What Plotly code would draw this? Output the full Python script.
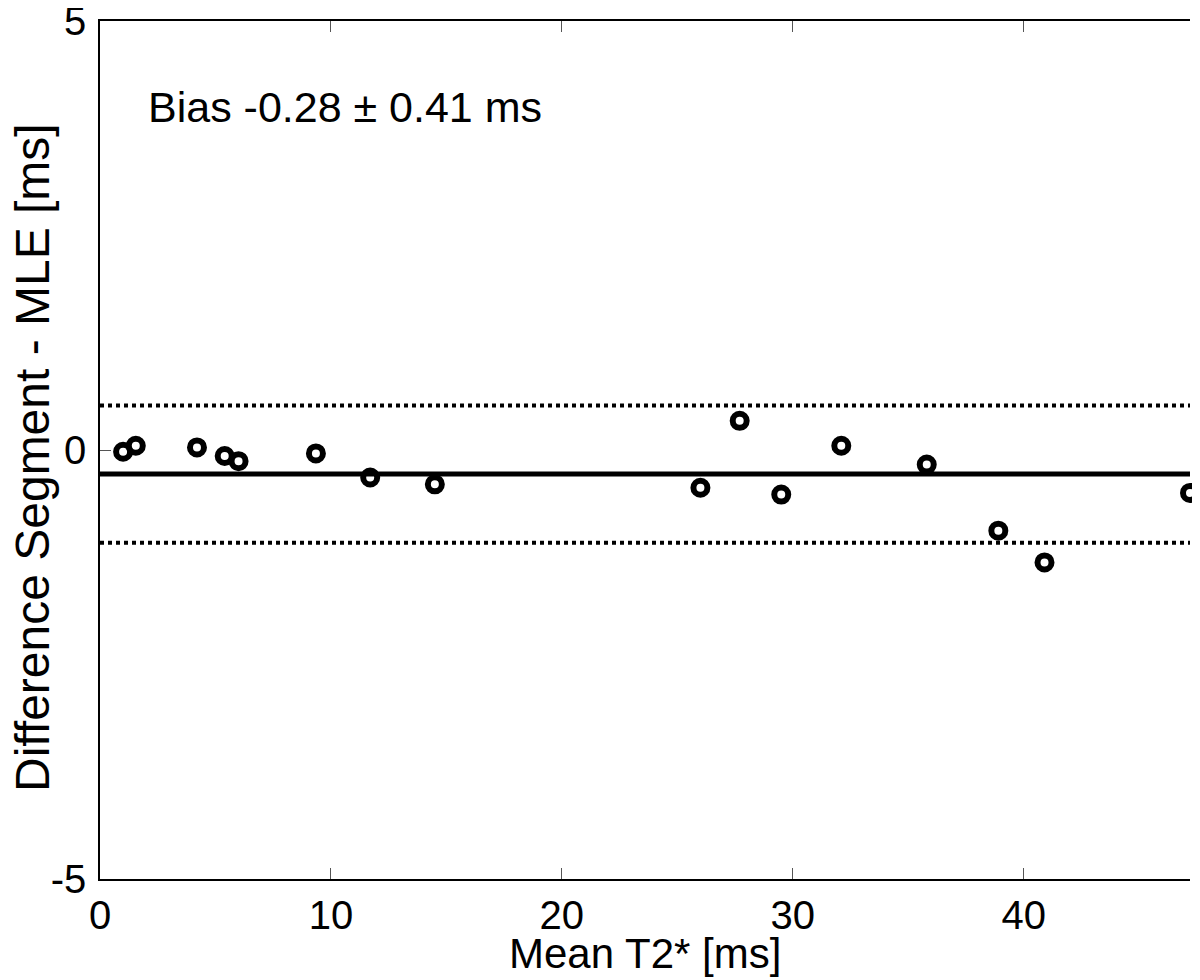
import plotly.graph_objects as go

# Data (Bland-Altman: Segment vs MLE)
mean_t2 = [1.0, 1.55, 4.2, 5.4, 6.0, 9.35, 11.7, 14.5, 26.0, 27.7, 29.5, 32.1, 35.8, 38.9, 40.9, 47.2]
diff_ms = [-0.02, 0.05, 0.03, -0.07, -0.13, -0.04, -0.32, -0.40, -0.44, 0.34, -0.52, 0.05, -0.17, -0.94, -1.31, -0.50]
bias = -0.28
sd = 0.41
loa_upper = 0.52
loa_lower = -1.08

x_range = [0, 47.2]
y_range = [-5, 5]
x_ticks = [0, 10, 20, 30, 40]
x_ticktext = ["0", "10", "20", "30", "40"]
y_ticks = [-5, 0, 5]
y_ticktext = ["-5", "0", "5"]

FONT = "Liberation Sans, Arial, sans-serif"

fig = go.Figure()

# Mean and limits of agreement lines
fig.add_trace(go.Scatter(x=x_range, y=[loa_upper, loa_upper], mode="lines",
                         line=dict(color="black", width=4, dash="dot"), showlegend=False, hoverinfo="skip"))
fig.add_trace(go.Scatter(x=x_range, y=[loa_lower, loa_lower], mode="lines",
                         line=dict(color="black", width=4, dash="dot"), showlegend=False, hoverinfo="skip"))
fig.add_trace(go.Scatter(x=x_range, y=[bias, bias], mode="lines",
                         line=dict(color="black", width=5), showlegend=False, hoverinfo="skip"))

# Data points
fig.add_trace(go.Scatter(x=mean_t2, y=diff_ms, mode="markers", cliponaxis=False,
                         marker=dict(symbol="circle-open", size=14, color="black",
                                     line=dict(color="black", width=6)),
                         showlegend=False))

fig.add_annotation(x=2, y=4, xref="x", yref="y", xanchor="left", yanchor="middle",
                   text=f"Bias {bias:.2f} \u00b1 {sd:.2f} ms", showarrow=False,
                   font=dict(family=FONT, size=43, color="black"))

# Axis titles
fig.add_annotation(x=0.5, y=0, xref="paper", yref="paper", xanchor="center", yanchor="middle",
                   yshift=-74, text="Mean T2* [ms]", showarrow=False,
                   font=dict(family=FONT, size=42, color="black"))
fig.add_annotation(x=0, y=0.5, xref="paper", yref="paper", xanchor="center", yanchor="middle",
                   xshift=-68, yshift=-8, textangle=-90, text="Difference Segment - MLE [ms]",
                   showarrow=False, font=dict(family=FONT, size=48, color="black"))

fig.update_layout(
    width=1192, height=972,
    margin=dict(l=92, r=10, t=13, b=101),
    paper_bgcolor="white", plot_bgcolor="white",
    font=dict(family=FONT, color="black"),
    xaxis=dict(range=x_range, tickvals=x_ticks, ticktext=x_ticktext, ticks="inside", ticklen=11,
               tickcolor="#555555", showline=True, linecolor="black", linewidth=1.5, mirror="ticks",
               showgrid=False, zeroline=False, tickfont=dict(size=40, family=FONT),
               ticklabelstandoff=0, automargin=False, ticklabeloverflow="allow"),
    yaxis=dict(range=y_range, tickvals=y_ticks, ticktext=y_ticktext, ticks="inside", ticklen=11,
               tickcolor="#555555", showline=True, linecolor="black", linewidth=1.5, mirror=False,
               showgrid=False, zeroline=False, tickfont=dict(size=40, family=FONT),
               ticklabelstandoff=4, automargin=False, ticklabeloverflow="allow"),
    yaxis2=dict(range=y_range, overlaying="y", side="right", tickvals=y_ticks, ticks="inside",
                ticklen=11, tickcolor="#777777", showticklabels=False, showline=True,
                linecolor="#777777", linewidth=2, showgrid=False, zeroline=False, automargin=False),
)

fig.write_html("out.html")
